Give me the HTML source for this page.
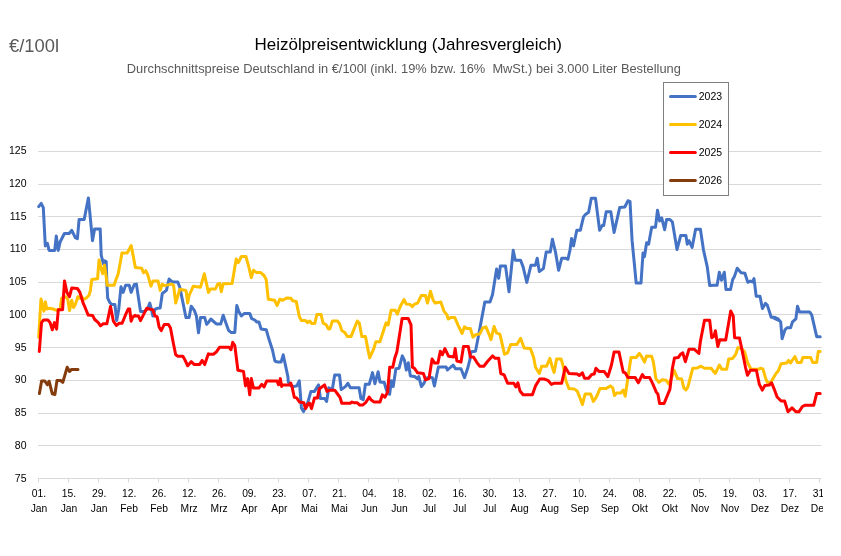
<!DOCTYPE html>
<html><head><meta charset="utf-8"><style>
html,body{margin:0;padding:0;background:#fff;width:841px;height:556px;overflow:hidden}
svg{display:block;will-change:transform}
text{font-family:"Liberation Sans",sans-serif}
</style></head><body>
<svg width="841" height="556" viewBox="0 0 841 556">
<rect width="841" height="556" fill="#fff"/>
<text x="9" y="51.6" font-size="17.5" fill="#595959" textLength="50" lengthAdjust="spacingAndGlyphs">€/100l</text>
<text x="254.5" y="49.5" font-size="17" fill="#000" textLength="307.5" lengthAdjust="spacingAndGlyphs">Heizölpreisentwicklung (Jahresvergleich)</text>
<text x="126.8" y="72.9" font-size="12.2" fill="#595959" textLength="554.1" lengthAdjust="spacingAndGlyphs">Durchschnittspreise Deutschland in €/100l (inkl. 19% bzw. 16%&#160; MwSt.) bei 3.000 Liter Bestellung</text>
<g stroke="#d9d9d9" stroke-width="1"><line x1="38" y1="151.5" x2="821.5" y2="151.5"/><line x1="38" y1="184.5" x2="821.5" y2="184.5"/><line x1="38" y1="216.5" x2="821.5" y2="216.5"/><line x1="38" y1="249.5" x2="821.5" y2="249.5"/><line x1="38" y1="282.5" x2="821.5" y2="282.5"/><line x1="38" y1="314.5" x2="821.5" y2="314.5"/><line x1="38" y1="347.5" x2="821.5" y2="347.5"/><line x1="38" y1="380.5" x2="821.5" y2="380.5"/><line x1="38" y1="413.5" x2="821.5" y2="413.5"/><line x1="38" y1="445.5" x2="821.5" y2="445.5"/><line x1="38" y1="478.5" x2="821.5" y2="478.5"/></g>
<g font-size="10.5" fill="#000"><text x="26.5" y="154.2" text-anchor="end">125</text><text x="26.5" y="186.9" text-anchor="end">120</text><text x="26.5" y="219.7" text-anchor="end">115</text><text x="26.5" y="252.4" text-anchor="end">110</text><text x="26.5" y="285.2" text-anchor="end">105</text><text x="26.5" y="317.9" text-anchor="end">100</text><text x="26.5" y="350.7" text-anchor="end">95</text><text x="26.5" y="383.4" text-anchor="end">90</text><text x="26.5" y="416.2" text-anchor="end">85</text><text x="26.5" y="448.9" text-anchor="end">80</text><text x="26.5" y="481.7" text-anchor="end">75</text></g>
<svg x="0" y="0" width="823" height="556">
<g stroke="#d9d9d9" stroke-width="1"><line x1="38.5" y1="478.5" x2="38.5" y2="482.5"/><line x1="68.5" y1="478.5" x2="68.5" y2="482.5"/><line x1="98.5" y1="478.5" x2="98.5" y2="482.5"/><line x1="128.5" y1="478.5" x2="128.5" y2="482.5"/><line x1="158.5" y1="478.5" x2="158.5" y2="482.5"/><line x1="188.5" y1="478.5" x2="188.5" y2="482.5"/><line x1="218.5" y1="478.5" x2="218.5" y2="482.5"/><line x1="248.5" y1="478.5" x2="248.5" y2="482.5"/><line x1="278.5" y1="478.5" x2="278.5" y2="482.5"/><line x1="308.5" y1="478.5" x2="308.5" y2="482.5"/><line x1="338.5" y1="478.5" x2="338.5" y2="482.5"/><line x1="368.5" y1="478.5" x2="368.5" y2="482.5"/><line x1="398.5" y1="478.5" x2="398.5" y2="482.5"/><line x1="429.5" y1="478.5" x2="429.5" y2="482.5"/><line x1="459.5" y1="478.5" x2="459.5" y2="482.5"/><line x1="489.5" y1="478.5" x2="489.5" y2="482.5"/><line x1="519.5" y1="478.5" x2="519.5" y2="482.5"/><line x1="549.5" y1="478.5" x2="549.5" y2="482.5"/><line x1="579.5" y1="478.5" x2="579.5" y2="482.5"/><line x1="609.5" y1="478.5" x2="609.5" y2="482.5"/><line x1="639.5" y1="478.5" x2="639.5" y2="482.5"/><line x1="669.5" y1="478.5" x2="669.5" y2="482.5"/><line x1="699.5" y1="478.5" x2="699.5" y2="482.5"/><line x1="729.5" y1="478.5" x2="729.5" y2="482.5"/><line x1="759.5" y1="478.5" x2="759.5" y2="482.5"/><line x1="789.5" y1="478.5" x2="789.5" y2="482.5"/><line x1="819.5" y1="478.5" x2="819.5" y2="482.5"/></g>
<g font-size="10.3" fill="#000" text-anchor="middle"><text x="39.0" y="497">01.</text><text x="39.0" y="512">Jan</text><text x="69.0" y="497">15.</text><text x="69.0" y="512">Jan</text><text x="99.1" y="497">29.</text><text x="99.1" y="512">Jan</text><text x="129.1" y="497">12.</text><text x="129.1" y="512">Feb</text><text x="159.2" y="497">26.</text><text x="159.2" y="512">Feb</text><text x="189.2" y="497">12.</text><text x="189.2" y="512">Mrz</text><text x="219.2" y="497">26.</text><text x="219.2" y="512">Mrz</text><text x="249.3" y="497">09.</text><text x="249.3" y="512">Apr</text><text x="279.3" y="497">23.</text><text x="279.3" y="512">Apr</text><text x="309.4" y="497">07.</text><text x="309.4" y="512">Mai</text><text x="339.4" y="497">21.</text><text x="339.4" y="512">Mai</text><text x="369.4" y="497">04.</text><text x="369.4" y="512">Jun</text><text x="399.5" y="497">18.</text><text x="399.5" y="512">Jun</text><text x="429.5" y="497">02.</text><text x="429.5" y="512">Jul</text><text x="459.6" y="497">16.</text><text x="459.6" y="512">Jul</text><text x="489.6" y="497">30.</text><text x="489.6" y="512">Jul</text><text x="519.6" y="497">13.</text><text x="519.6" y="512">Aug</text><text x="549.7" y="497">27.</text><text x="549.7" y="512">Aug</text><text x="579.7" y="497">10.</text><text x="579.7" y="512">Sep</text><text x="609.8" y="497">24.</text><text x="609.8" y="512">Sep</text><text x="639.8" y="497">08.</text><text x="639.8" y="512">Okt</text><text x="669.8" y="497">22.</text><text x="669.8" y="512">Okt</text><text x="699.9" y="497">05.</text><text x="699.9" y="512">Nov</text><text x="729.9" y="497">19.</text><text x="729.9" y="512">Nov</text><text x="760.0" y="497">03.</text><text x="760.0" y="512">Dez</text><text x="790.0" y="497">17.</text><text x="790.0" y="512">Dez</text><text x="820.0" y="497">31.</text><text x="820.0" y="512">Dez</text></g>
</svg>
<clipPath id="pc"><rect x="0" y="0" width="823" height="556"/></clipPath>
<g clip-path="url(#pc)"><polyline fill="none" stroke="#4472c4" stroke-width="3" stroke-linejoin="round" stroke-linecap="round" points="38.7,206.6 41.2,203.4 43.3,207.6 45.3,245.9 47.4,243.4 49.1,250.4 54.7,250.4 56.3,235.9 58.2,250.4 60.2,241.7 64.4,233.5 69.1,233.5 71.8,230.3 75.3,237.6 77.4,238.6 79.1,219.4 84.2,219.4 88.4,197.9 92.5,240.7 94.6,228.9 100.2,228.9 101.2,255.0 103.3,263.6 104.8,260.8 106.2,261.5 106.9,283.8 107.7,298.2 109.8,302.5 112.0,304.6 114.9,304.6 116.7,320.5 118.7,309.7 121.0,286.7 123.1,292.4 125.6,285.2 129.2,285.2 131.1,292.4 134.3,284.5 136.4,284.1 140.5,311.4 144.7,311.4 147.8,308.3 149.8,303.1 150.9,307.2 152.9,316.1 155.0,309.3 157.1,308.3 160.2,307.9 162.3,293.5 166.4,290.4 169.1,279.0 172.6,282.1 177.8,282.1 179.8,287.2 186.0,317.6 189.1,317.6 191.2,306.2 194.3,310.3 196.4,316.1 198.5,332.7 200.5,317.6 204.7,317.6 206.7,324.4 209.0,321.7 210.8,319.0 216.6,324.1 220.7,324.1 223.2,315.2 225.2,321.0 228.6,330.4 231.0,332.4 234.8,332.4 236.8,305.5 238.9,311.7 241.4,315.9 244.5,313.4 249.7,313.4 251.7,318.6 254.8,320.0 256.9,322.1 259.0,322.1 261.0,328.9 266.2,329.7 269.3,340.3 272.4,349.7 274.9,361.0 277.6,362.1 281.1,362.1 283.2,354.8 285.2,364.1 287.9,376.6 288.3,381.9 291.3,386.1 293.1,386.6 296.6,386.1 299.3,380.9 300.8,399.7 301.4,408.0 303.5,411.6 307.9,402.1 310.9,391.4 314.5,391.4 318.6,384.9 320.4,398.5 324.6,398.5 326.6,401.5 328.8,387.8 332.3,389.6 334.7,375.0 339.5,375.0 341.2,389.6 345.4,386.6 347.8,383.3 350.4,387.8 359.1,387.8 360.9,398.5 363.2,399.7 365.4,384.3 369.2,384.3 372.5,372.6 374.9,383.7 378.1,371.8 380.0,381.9 380.1,381.9 384.3,382.5 386.1,389.0 387.6,393.2 389.6,394.3 391.4,380.7 393.2,386.6 395.9,368.8 399.1,368.2 402.3,355.9 404.5,360.5 406.3,370.0 408.3,362.8 410.4,375.9 414.6,376.5 417.6,378.9 418.8,376.5 421.4,386.6 424.1,383.0 425.9,378.3 429.5,377.1 432.4,377.7 434.4,386.0 438.4,367.0 446.1,367.0 447.5,370.0 450.9,367.0 453.2,365.2 455.6,368.8 461.0,368.8 464.5,377.7 467.5,368.8 470.0,359.3 470.4,354.2 471.4,351.7 475.5,351.3 478.6,335.2 481.7,318.6 484.8,302.1 490.0,302.1 492.5,294.8 496.6,269.0 498.7,278.3 500.4,265.9 505.5,265.9 509.0,291.7 513.2,250.3 515.3,260.3 520.6,260.3 523.1,266.9 526.8,282.4 531.0,265.2 535.5,265.2 537.2,258.2 539.3,271.5 543.4,268.6 546.2,252.1 550.3,252.1 552.4,239.2 555.5,252.1 558.6,270.3 561.7,258.3 565.9,258.3 567.9,259.3 570.0,250.0 571.5,238.6 573.5,245.9 576.8,230.3 580.3,230.3 583.5,216.9 585.5,214.4 588.6,212.3 591.3,198.3 595.5,198.3 599.6,230.3 602.1,225.6 603.7,225.6 606.2,211.7 610.8,211.7 614.1,232.4 619.7,207.6 624.8,207.0 627.9,200.8 630.0,201.4 632.1,240.7 636.2,283.1 641.0,283.1 643.0,253.1 644.5,256.6 646.6,242.8 648.6,244.2 651.7,227.2 655.5,227.2 657.5,210.3 659.6,221.0 661.7,217.9 664.6,229.7 666.6,219.4 669.9,219.4 672.4,222.1 677.0,249.6 680.7,235.5 685.9,235.5 687.3,244.2 689.0,240.7 692.1,247.5 695.6,229.3 700.4,229.3 703.5,250.0 707.2,266.6 709.7,285.6 714.0,285.2 717.1,285.3 719.3,272.2 721.5,280.3 724.3,272.2 726.0,289.5 730.5,289.5 732.7,279.5 734.4,276.6 737.2,268.2 741.1,272.7 744.9,273.3 747.8,282.3 750.3,281.1 752.3,282.0 754.0,278.6 756.2,296.2 760.0,296.2 762.4,308.5 765.4,303.4 767.4,305.4 771.2,317.2 775.4,317.5 778.8,320.5 771.2,316.9 775.1,317.5 778.1,318.9 780.7,321.9 782.1,338.7 785.0,329.8 787.0,327.8 790.6,327.8 792.5,321.9 795.9,318.9 797.5,306.2 799.5,312.0 809.7,312.0 811.7,314.9 816.7,336.7 820.2,336.7"/>
<polyline fill="none" stroke="#ffc000" stroke-width="3" stroke-linejoin="round" stroke-linecap="round" points="38.7,337.2 41.0,298.9 43.9,311.1 45.4,301.8 46.8,309.0 49.4,308.2 53.0,309.0 56.6,310.4 60.2,309.0 61.6,298.2 65.9,296.7 67.8,299.6 69.5,310.4 71.7,300.3 73.6,307.5 75.3,304.6 77.9,296.7 79.9,298.2 81.8,296.7 83.2,299.6 86.1,298.2 89.0,295.3 90.4,290.3 91.8,279.5 97.6,278.7 99.0,260.0 102.6,273.7 104.5,265.1 105.8,273.7 107.2,285.2 114.1,285.2 116.3,278.7 118.2,273.7 120.6,260.8 121.9,253.1 127.1,253.1 131.2,245.5 135.4,267.6 141.6,268.2 143.6,272.8 145.7,270.7 147.8,274.8 150.9,286.2 152.9,281.0 158.1,281.0 160.2,290.4 162.3,284.1 164.3,285.6 171.6,284.1 173.6,285.2 175.7,303.0 179.8,289.3 186.0,290.4 187.7,303.0 189.1,295.5 193.3,286.2 200.5,287.2 204.3,273.8 208.4,292.4 210.3,289.0 215.5,289.0 217.6,284.2 219.7,283.4 221.3,291.7 223.2,283.8 232.1,283.4 236.2,259.0 238.3,262.7 241.4,256.5 245.9,256.5 248.6,266.2 251.3,277.6 253.4,270.3 256.3,272.4 260.4,272.4 264.1,275.5 266.2,279.7 268.3,299.3 274.5,300.3 277.2,305.5 279.7,299.3 282.8,300.3 286.9,297.9 291.0,298.3 292.7,300.8 296.2,301.4 299.3,316.5 301.4,320.6 305.5,320.6 307.6,322.7 309.7,321.0 311.7,323.5 314.8,323.5 316.9,314.4 321.0,314.4 323.1,323.1 326.2,324.8 328.3,328.9 329.9,328.9 332.4,321.0 337.6,321.0 339.7,324.1 341.7,330.4 344.8,332.4 347.3,336.6 351.0,336.6 357.3,321.0 359.3,323.1 361.8,336.6 365.5,336.6 368.0,349.7 369.7,357.9 373.8,348.6 375.8,341.8 379.9,341.8 383.4,331.0 386.1,322.8 388.2,324.8 391.1,310.3 395.2,310.3 397.3,314.1 400.6,305.8 404.1,299.6 406.2,304.1 410.3,304.6 412.4,306.6 414.5,304.1 417.6,303.1 421.3,295.5 425.5,295.5 427.5,303.1 430.4,291.3 433.1,300.0 435.2,303.1 440.8,302.1 444.1,311.4 447.0,314.9 448.2,319.0 450.7,317.6 454.8,317.6 457.9,324.8 462.1,333.5 464.4,326.9 467.2,328.6 470.4,328.6 473.0,337.2 475.5,334.8 479.7,334.1 482.8,327.9 485.9,326.9 489.0,334.1 491.0,339.7 494.1,326.5 496.6,333.1 499.9,334.1 504.5,354.2 507.6,352.8 510.7,344.5 516.9,344.5 520.6,338.3 524.1,348.0 530.4,348.6 533.5,356.9 535.5,367.2 539.3,373.5 541.7,366.2 544.0,366.2 546.6,366.2 549.9,358.3 552.0,366.2 554.1,372.4 556.6,359.0 561.1,359.0 563.2,366.2 565.9,380.7 569.0,388.6 574.1,389.0 577.2,391.0 579.7,397.2 582.4,404.5 585.1,394.1 590.7,394.1 593.4,401.4 596.3,397.2 600.0,388.6 606.2,388.6 610.3,385.9 612.8,387.9 614.5,395.6 616.6,393.1 620.7,393.1 623.2,390.0 625.2,396.2 629.0,370.3 631.0,357.5 636.2,357.5 639.3,353.4 641.8,356.9 644.5,362.1 646.6,355.9 651.7,356.3 653.4,362.1 655.9,378.6 659.0,382.4 662.1,379.7 666.2,380.3 668.7,383.8 671.4,378.6 674.1,370.3 677.6,378.6 681.7,379.0 683.8,387.9 685.9,390.0 687.9,386.9 692.7,368.3 697.3,367.9 701.0,366.2 704.5,368.3 711.3,368.3 714.0,372.0 715.4,373.3 719.4,365.0 721.8,369.3 726.7,369.3 728.7,359.0 732.6,358.4 735.6,354.5 738.0,347.6 741.5,348.6 744.5,351.5 747.5,362.4 751.0,369.3 758.3,369.3 760.3,368.3 762.9,368.9 765.3,377.2 767.2,382.2 770.2,383.2 773.2,378.2 776.1,373.3 778.1,371.3 781.1,363.8 786.6,363.0 788.6,360.4 790.6,363.0 794.9,356.5 797.3,362.4 801.2,362.4 802.8,357.5 810.7,357.5 812.7,362.4 816.7,362.4 818.3,351.5 820.2,351.5"/>
<polyline fill="none" stroke="#ff0000" stroke-width="3" stroke-linejoin="round" stroke-linecap="round" points="39.3,351.5 41.5,322.6 43.6,320.0 47.9,320.0 50.1,322.6 52.3,329.8 54.4,322.6 56.6,329.1 58.3,309.7 62.6,309.7 64.5,280.9 66.9,292.4 69.5,296.7 71.7,288.1 77.4,288.4 79.9,292.4 83.2,303.2 85.4,308.2 88.2,315.1 92.6,315.4 94.7,319.5 98.3,322.6 100.5,325.8 103.3,323.8 106.9,323.8 110.5,306.5 113.4,321.2 116.3,325.5 119.2,323.3 122.1,323.3 125.6,314.7 128.2,309.0 129.7,309.0 131.1,321.2 132.8,316.9 135.0,315.4 134.3,316.1 138.5,316.1 140.5,320.7 146.7,308.3 152.9,309.9 155.0,316.1 157.1,316.6 159.1,326.9 161.2,330.6 164.3,324.4 168.5,324.4 170.5,327.9 173.2,342.4 175.7,354.8 177.8,356.3 182.9,356.3 185.0,360.0 187.7,365.8 191.2,361.7 194.3,364.6 199.5,364.6 202.2,360.4 204.7,364.6 208.4,353.8 209.3,354.2 213.4,354.2 216.6,351.7 219.7,347.2 229.0,347.2 231.0,349.7 232.7,342.4 234.8,345.5 237.9,370.3 243.5,371.4 245.5,385.9 247.6,378.6 249.7,394.8 251.3,378.6 253.4,387.9 259.0,387.9 261.7,384.4 264.1,386.9 266.6,381.1 277.0,381.1 278.6,384.8 280.3,378.6 281.7,386.5 282.4,384.9 289.5,384.9 290.7,383.1 291.9,386.1 294.3,397.3 296.6,397.9 299.6,402.1 303.8,402.7 305.6,408.6 308.5,403.3 309.7,403.3 311.5,408.6 314.5,397.9 317.5,397.9 319.2,389.0 324.6,384.9 327.0,391.4 329.9,390.2 334.7,390.2 338.3,395.0 340.0,397.3 341.8,403.3 350.2,403.3 351.9,402.1 353.7,402.7 357.3,402.7 359.7,405.1 362.6,405.1 365.6,402.7 369.2,397.1 371.0,399.7 373.9,401.9 380.0,401.9 382.4,394.8 384.9,397.2 387.6,392.1 389.7,367.2 392.8,367.2 394.8,357.9 396.9,351.7 402.1,318.6 408.3,318.6 411.0,324.8 412.4,367.2 414.5,368.3 417.6,372.8 423.4,373.5 425.5,379.7 429.0,378.6 432.1,359.0 434.6,363.1 437.9,363.1 440.3,351.3 442.4,354.8 444.9,348.6 448.6,356.3 453.8,356.9 455.2,348.6 456.9,361.0 461.0,362.1 463.5,346.6 468.3,346.6 470.4,356.9 473.5,356.9 476.6,362.1 479.7,366.2 483.8,366.2 487.9,361.0 492.5,355.9 495.2,358.3 498.7,358.3 500.8,373.5 504.1,374.9 507.6,383.2 513.8,383.2 515.9,386.9 517.9,382.8 520.0,391.0 523.1,394.8 532.4,394.8 535.5,385.9 539.7,379.0 544.0,379.0 547.9,380.3 551.4,384.4 554.5,383.2 561.7,383.2 565.2,367.2 569.0,373.5 577.2,374.1 579.3,375.5 582.4,372.8 584.5,378.2 588.6,378.2 591.7,374.5 594.2,374.1 595.9,368.3 599.0,371.4 604.1,371.4 607.9,376.6 611.4,365.2 614.1,352.1 619.0,352.1 623.2,372.0 625.2,372.8 627.9,377.6 635.2,377.6 638.3,382.8 642.4,374.5 644.5,377.6 649.7,377.6 652.8,383.8 656.3,392.1 657.9,394.1 659.6,403.5 664.1,403.5 667.3,395.6 669.9,389.4 672.4,368.3 674.5,357.9 678.2,357.5 680.7,354.2 682.8,352.8 685.3,361.7 689.0,349.2 694.1,349.2 698.9,353.4 700.4,341.4 704.5,320.3 709.7,320.3 711.7,337.7 714.0,336.2 715.4,330.8 717.8,346.6 719.8,339.7 725.7,340.1 730.7,311.0 733.2,315.9 734.6,337.7 739.5,338.1 741.9,349.5 745.5,367.3 747.5,375.3 750.4,370.3 756.4,370.3 759.3,384.2 762.3,390.1 764.9,385.5 769.2,385.1 771.6,382.8 774.2,389.1 777.1,397.0 781.1,401.0 784.6,401.0 788.0,411.8 792.0,407.9 795.9,411.8 798.9,411.8 802.4,406.5 804.8,405.3 813.7,405.3 816.7,393.4 820.2,393.4"/>
<polyline fill="none" stroke="#843c0c" stroke-width="3" stroke-linejoin="round" stroke-linecap="round" points="39.4,393.5 41.6,380.9 44.8,381.0 47.3,384.8 49.1,381.2 52.3,393.8 54.9,394.5 57.0,380.5 60.6,380.5 62.8,382.3 67.2,367.2 69.6,371.5 71.4,369.4 78.0,369.4"/></g>
<rect x="663.5" y="82.5" width="65" height="113" fill="#fff" stroke="#808080" stroke-width="1"/>
<g stroke-width="3" stroke-linecap="round">
<line x1="670.5" y1="96.5" x2="695.3" y2="96.5" stroke="#4472c4"/>
<line x1="670.5" y1="124.5" x2="695.3" y2="124.5" stroke="#ffc000"/>
<line x1="670.5" y1="152.5" x2="695.3" y2="152.5" stroke="#ff0000"/>
<line x1="670.5" y1="180.5" x2="695.3" y2="180.5" stroke="#843c0c"/>
</g>
<g font-size="10.5" fill="#000">
<text x="698.8" y="100.3" textLength="23.3" lengthAdjust="spacingAndGlyphs">2023</text>
<text x="698.8" y="128.3" textLength="23.3" lengthAdjust="spacingAndGlyphs">2024</text>
<text x="698.8" y="156.3" textLength="23.3" lengthAdjust="spacingAndGlyphs">2025</text>
<text x="698.8" y="184.3" textLength="23.3" lengthAdjust="spacingAndGlyphs">2026</text>
</g>
</svg>
</body></html>
